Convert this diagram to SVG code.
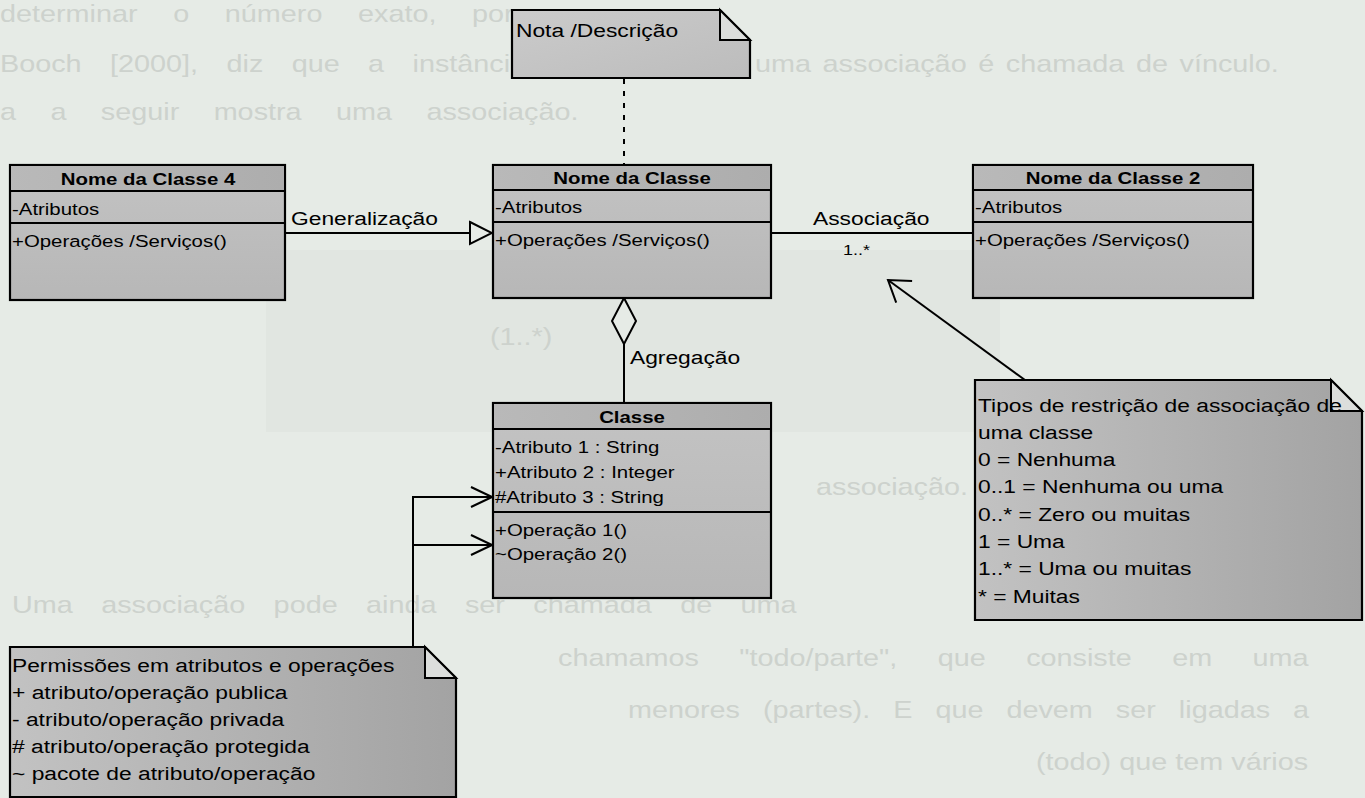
<svg xmlns="http://www.w3.org/2000/svg" width="1365" height="798" viewBox="0 0 1365 798">
  <style>
    text { font-family: "Liberation Sans", Arial, sans-serif; fill: #000; }
    .bg { fill: #cdd2cd; font-size: 24px; }
    .hd { font-size: 17px; font-weight: bold; text-anchor: middle; }
    .m { font-size: 17px; }
    .nt { font-size: 19px; }
    .lb { font-size: 19px; }
    .box { stroke: #000; stroke-width: 2.2; }
    .sep { stroke: #000; stroke-width: 2; }
    .ln { fill: none; stroke: #000; stroke-width: 2; }
    .flap { fill: #dcdedc; stroke: #000; stroke-width: 2; stroke-linejoin: miter; }
  </style>
  <defs>
    <linearGradient id="gBox" x1="0" y1="0" x2="0" y2="1">
      <stop offset="0" stop-color="#c3c3c3"/>
      <stop offset="1" stop-color="#b7b7b7"/>
    </linearGradient>
    <linearGradient id="gHead" x1="0" y1="0" x2="1" y2="0">
      <stop offset="0" stop-color="#b9b9b9"/>
      <stop offset="1" stop-color="#adadad"/>
    </linearGradient>
    <linearGradient id="gNote" x1="0" y1="0" x2="1" y2="0">
      <stop offset="0" stop-color="#c2c2c2"/>
      <stop offset="1" stop-color="#a3a3a3"/>
    </linearGradient>
    <linearGradient id="gNoteLight" x1="0" y1="0" x2="1" y2="1">
      <stop offset="0" stop-color="#cbcbcb"/>
      <stop offset="1" stop-color="#bcbcbc"/>
    </linearGradient>
    <marker id="open" markerUnits="userSpaceOnUse" viewBox="0 0 24 24" markerWidth="24" markerHeight="24" refX="22" refY="12" orient="auto">
      <path d="M1,2 L22,12 L1,22" fill="none" stroke="#000" stroke-width="2"/>
    </marker>
    <marker id="openWide" markerUnits="userSpaceOnUse" viewBox="0 0 24 30" markerWidth="24" markerHeight="30" refX="22" refY="15" orient="auto">
      <path d="M2,1.5 L22,15 L2,28.5" fill="none" stroke="#000" stroke-width="2"/>
    </marker>
    <marker id="tri" markerUnits="userSpaceOnUse" viewBox="0 0 26 26" markerWidth="26" markerHeight="26" refX="24" refY="13" orient="auto">
      <path d="M2,2 L24,13 L2,24 Z" fill="#e6ebe6" stroke="#000" stroke-width="2"/>
    </marker>
    <marker id="diamond" markerUnits="userSpaceOnUse" viewBox="0 0 48 26" markerWidth="48" markerHeight="26" refX="1" refY="13" orient="auto">
      <path d="M1,13 L24,1 L47,13 L24,25 Z" fill="#e6ebe6" stroke="#000" stroke-width="2"/>
    </marker>
  </defs>

  <!-- page -->
  <rect width="1365" height="798" fill="#e6ebe6"/>

  <!-- faint print from the reverse side of the sheet -->
  <g id="reverse-print">
    <rect x="266" y="250" width="734" height="182" fill="#e1e6e1"/>
    <text class="bg" transform="translate(0 22) scale(1.2 1)" word-spacing="23">determinar o número exato, por</text>
    <text class="bg" transform="translate(0 72) scale(1.2 1)" word-spacing="17">Booch [2000], diz que a instância</text>
    <text class="bg" transform="translate(755 72) scale(1.2 1)" word-spacing="3">uma associação é chamada de vínculo.</text>
    <text class="bg" transform="translate(0 120) scale(1.2 1)" word-spacing="22">a a seguir mostra uma associação.</text>
    <text class="bg" transform="translate(490 345) scale(1.2 1)">(1..*)</text>
    <text class="bg" transform="translate(816 495) scale(1.2 1)">associação.</text>
    <text class="bg" transform="translate(12 613) scale(1.2 1)" word-spacing="17">Uma associação pode ainda ser chamada de uma</text>
    <text class="bg" transform="translate(558 666) scale(1.2 1)" word-spacing="27">chamamos "todo/parte", que consiste em uma</text>
    <text class="bg" transform="translate(628 718) scale(1.2 1)" word-spacing="12.5">menores (partes). E que devem ser ligadas a</text>
    <text class="bg" transform="translate(1036 770) scale(1.2 1)">(todo) que tem vários</text>
  </g>

  <!-- connectors -->
  <g id="connectors">
    <line class="ln" x1="624" y1="79" x2="624" y2="165" stroke-dasharray="5 7"/>
    <line class="ln" x1="285" y1="233" x2="492" y2="233" marker-end="url(#tri)"/>
    <line class="ln" x1="771" y1="233" x2="973" y2="233"/>
    <line class="ln" x1="624" y1="298" x2="624" y2="403" marker-start="url(#diamond)"/>
    <line class="ln" x1="1025" y1="380" x2="888" y2="280" marker-end="url(#openWide)"/>
    <polyline class="ln" points="413,647 413,497 492,497" marker-end="url(#open)"/>
    <line class="ln" x1="413" y1="545" x2="492" y2="545" marker-end="url(#open)"/>
    <text class="lb" transform="translate(291 225) scale(1.2 1)">Generalização</text>
    <text class="lb" transform="translate(813 225) scale(1.2 1)">Associação</text>
    <text class="m" transform="translate(843 255) scale(1.2 1)" style="font-size:15px">1..*</text>
    <text class="lb" transform="translate(630 364) scale(1.2 1)">Agregação</text>
  </g>

  <!-- note: Nota / Descrição -->
  <g id="note-descricao">
    <path class="box" d="M512,10 H720 L750,40 V78 H512 Z" fill="url(#gNoteLight)"/>
    <path class="flap" d="M720,10 V40 H750 Z"/>
    <text class="nt" transform="translate(516 37) scale(1.2 1)">Nota /Descrição</text>
  </g>

  <!-- class: Nome da Classe 4 -->
  <g id="class-4">
    <rect class="box" x="10" y="165" width="275" height="135" fill="url(#gBox)"/>
    <rect x="11" y="166" width="273" height="25" fill="url(#gHead)"/>
    <line class="sep" x1="10" y1="191" x2="285" y2="191"/>
    <line class="sep" x1="10" y1="223" x2="285" y2="223"/>
    <text class="hd" transform="translate(148 185) scale(1.2 1)">Nome da Classe 4</text>
    <text class="m" transform="translate(12 215) scale(1.2 1)">-Atributos</text>
    <text class="m" transform="translate(12 247) scale(1.2 1)">+Operações /Serviços()</text>
  </g>

  <!-- class: Nome da Classe -->
  <g id="class-main">
    <rect class="box" x="493" y="165" width="278" height="133" fill="url(#gBox)"/>
    <rect x="494" y="166" width="276" height="24" fill="url(#gHead)"/>
    <line class="sep" x1="493" y1="190" x2="771" y2="190"/>
    <line class="sep" x1="493" y1="222" x2="771" y2="222"/>
    <text class="hd" transform="translate(632 184) scale(1.2 1)">Nome da Classe</text>
    <text class="m" transform="translate(495 213) scale(1.2 1)">-Atributos</text>
    <text class="m" transform="translate(495 246) scale(1.2 1)">+Operações /Serviços()</text>
  </g>

  <!-- class: Nome da Classe 2 -->
  <g id="class-2">
    <rect class="box" x="973" y="165" width="280" height="133" fill="url(#gBox)"/>
    <rect x="974" y="166" width="278" height="24" fill="url(#gHead)"/>
    <line class="sep" x1="973" y1="190" x2="1253" y2="190"/>
    <line class="sep" x1="973" y1="222" x2="1253" y2="222"/>
    <text class="hd" transform="translate(1113 184) scale(1.2 1)">Nome da Classe 2</text>
    <text class="m" transform="translate(975 213) scale(1.2 1)">-Atributos</text>
    <text class="m" transform="translate(975 246) scale(1.2 1)">+Operações /Serviços()</text>
  </g>

  <!-- class: Classe -->
  <g id="class-classe">
    <rect class="box" x="493" y="403" width="278" height="195" fill="url(#gBox)"/>
    <rect x="494" y="404" width="276" height="25" fill="url(#gHead)"/>
    <line class="sep" x1="493" y1="429" x2="771" y2="429"/>
    <line class="sep" x1="493" y1="512" x2="771" y2="512"/>
    <text class="hd" transform="translate(632 423) scale(1.2 1)">Classe</text>
    <text class="m" transform="translate(495 453) scale(1.2 1)">-Atributo 1 : String</text>
    <text class="m" transform="translate(495 478) scale(1.2 1)">+Atributo 2 : Integer</text>
    <text class="m" transform="translate(495 503) scale(1.2 1)">#Atributo 3 : String</text>
    <text class="m" transform="translate(495 536) scale(1.2 1)">+Operação 1()</text>
    <text class="m" transform="translate(495 560) scale(1.2 1)">~Operação 2()</text>
  </g>

  <!-- note: association multiplicities -->
  <g id="note-multiplicidade">
    <path class="box" d="M975,380 H1331 L1362,411 V620 H975 Z" fill="url(#gNote)"/>
    <path class="flap" d="M1331,380 V411 H1362 Z"/>
    <text class="nt" transform="translate(978 412) scale(1.2 1)">Tipos de restrição de associação de</text>
    <text class="nt" transform="translate(978 439) scale(1.2 1)">uma classe</text>
    <text class="nt" transform="translate(978 466) scale(1.2 1)">0 = Nenhuma</text>
    <text class="nt" transform="translate(978 493) scale(1.2 1)">0..1 = Nenhuma ou uma</text>
    <text class="nt" transform="translate(978 521) scale(1.2 1)">0..* = Zero ou muitas</text>
    <text class="nt" transform="translate(978 548) scale(1.2 1)">1 = Uma</text>
    <text class="nt" transform="translate(978 575) scale(1.2 1)">1..* = Uma ou muitas</text>
    <text class="nt" transform="translate(978 603) scale(1.2 1)">* = Muitas</text>
  </g>

  <!-- note: visibility markers -->
  <g id="note-permissoes">
    <path class="box" d="M10,647 H425 L456,678 V797 H10 Z" fill="url(#gNote)"/>
    <path class="flap" d="M425,647 V678 H456 Z"/>
    <text class="nt" transform="translate(12 672) scale(1.2 1)">Permissões em atributos e operações</text>
    <text class="nt" transform="translate(12 699) scale(1.2 1)">+ atributo/operação publica</text>
    <text class="nt" transform="translate(12 726) scale(1.2 1)">- atributo/operação privada</text>
    <text class="nt" transform="translate(12 753) scale(1.2 1)"># atributo/operação protegida</text>
    <text class="nt" transform="translate(12 780) scale(1.2 1)">~ pacote de atributo/operação</text>
  </g>
</svg>
